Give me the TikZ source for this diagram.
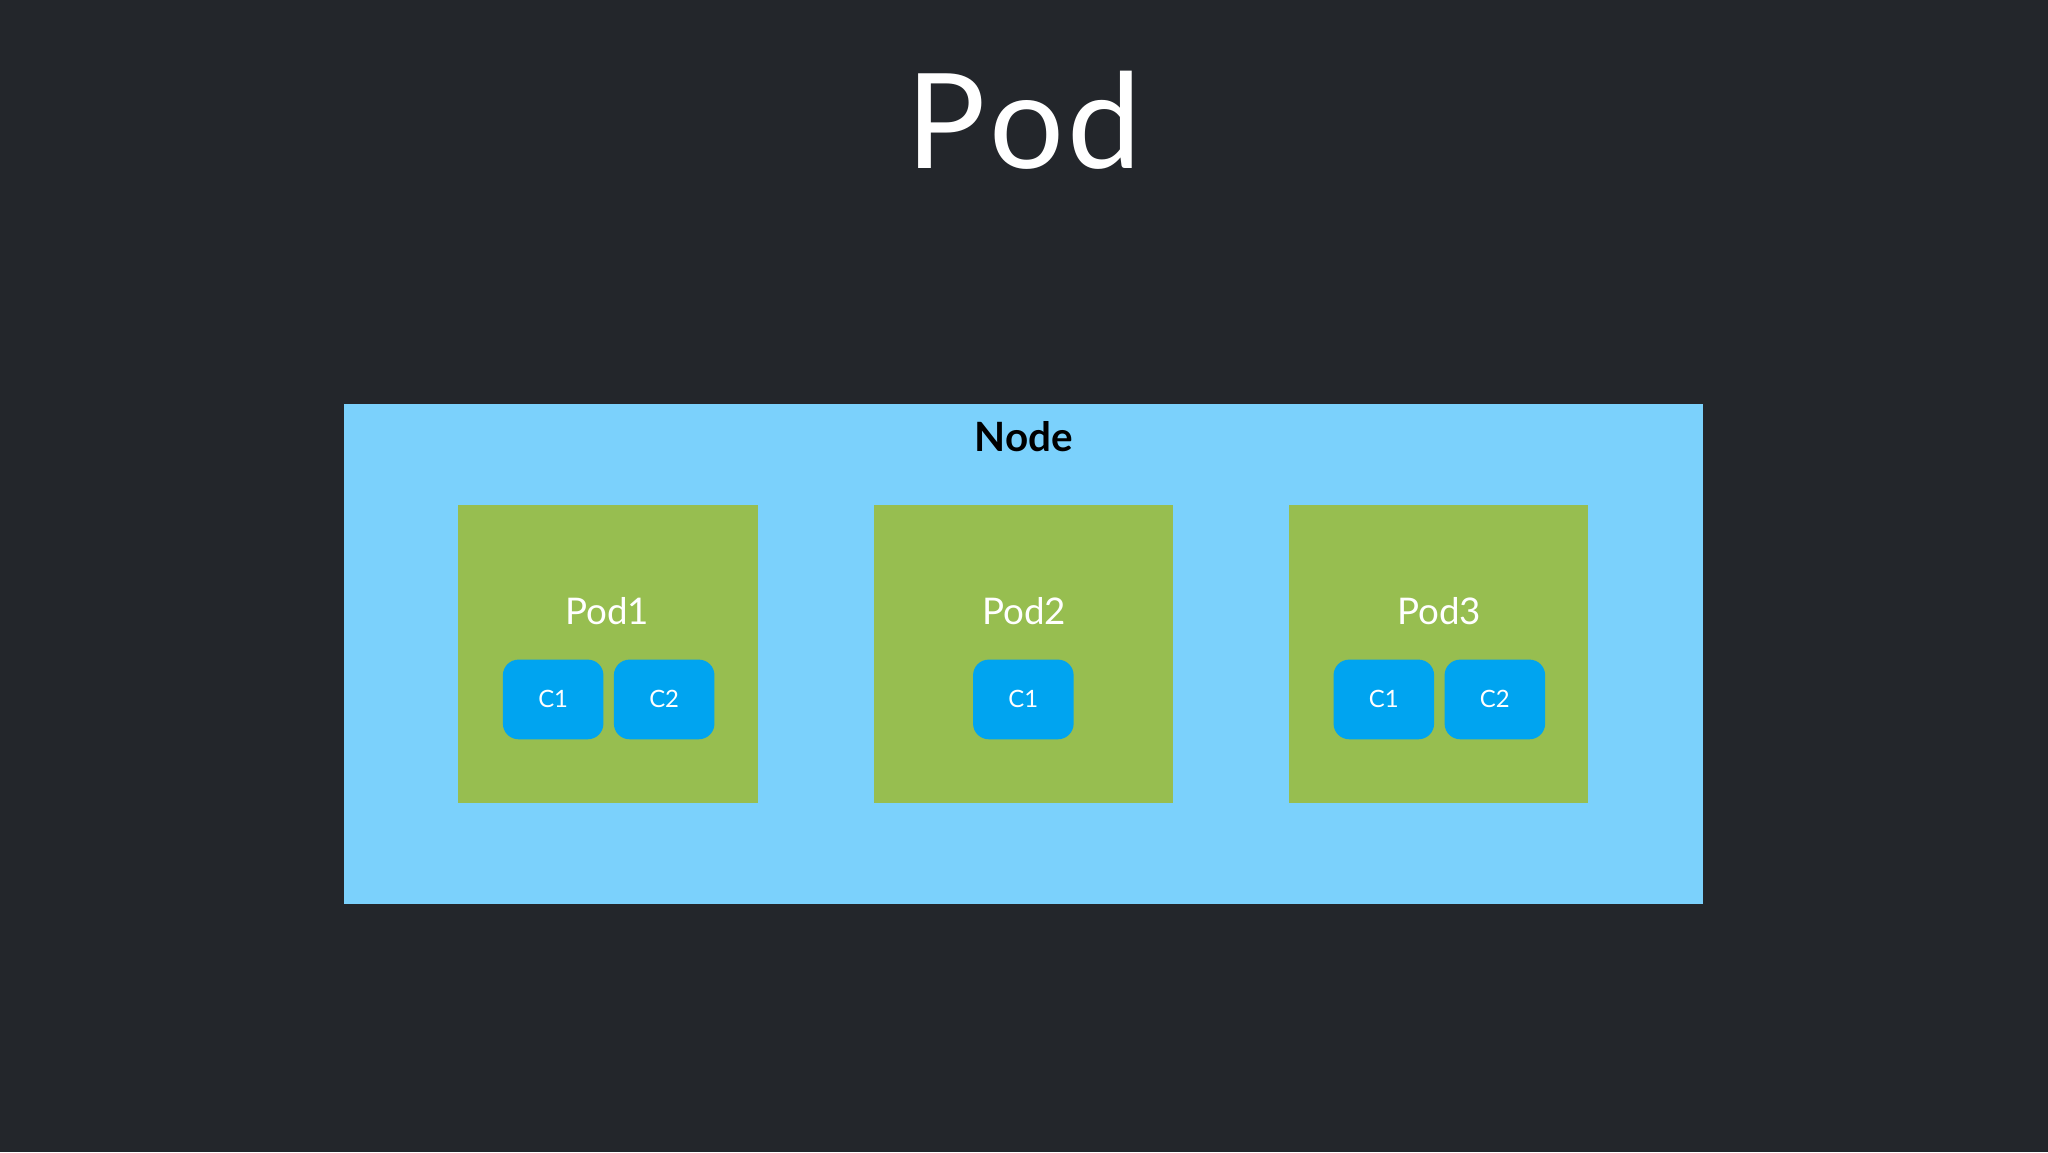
\documentclass[tikz,border=0pt]{standalone}
\usepackage{fontspec}
\setmainfont{Lato}
\definecolor{bg}{HTML}{23262B}
\definecolor{nodec}{HTML}{7BD1FC}
\definecolor{podc}{HTML}{97BE50}
\definecolor{cc}{HTML}{00A4F0}
\begin{document}
\begin{tikzpicture}[x=0.25mm,y=-0.25mm,
  podbox/.style={fill=podc,draw=none},
  cbox/.style={fill=cc,draw=none,rounded corners=3mm,minimum width=77*0.25mm,minimum height=61*0.25mm,inner sep=0pt,text=white,font=\fontsize{13}{15}\selectfont},
  podlabel/.style={text=white,font=\fontsize{20}{24}\selectfont}]
\fill[bg] (0,0) rectangle (1568,882);
\useasboundingbox (0,0) rectangle (1568,882);
\node[text=white,font=\fontsize{72}{80}\selectfont] (title) at (784,92) {P\kern2pt o\kern2pt d};
\fill[nodec] (263,309) rectangle (1304,692);
\node[font=\fontsize{22}{26}\selectfont\bfseries] (nodelabel) at (784,334) {Node};
\fill[podc] (351,387) rectangle (580,615);
\fill[podc] (669,387) rectangle (898,615);
\fill[podc] (987,387) rectangle (1216,615);
\node[podlabel] (p1) at (465,468) {Pod1};
\node[podlabel] (p2) at (784,468) {Pod2};
\node[podlabel] (p3) at (1102,468) {Pod3};
\node[cbox] (p1c1) at (423.5,535.5) {C1};
\node[cbox] (p1c2) at (508.5,535.5) {C2};
\node[cbox] (p2c1) at (783.5,535.5) {C1};
\node[cbox] (p3c1) at (1059.5,535.5) {C1};
\node[cbox] (p3c2) at (1144.5,535.5) {C2};
\end{tikzpicture}
\end{document}
